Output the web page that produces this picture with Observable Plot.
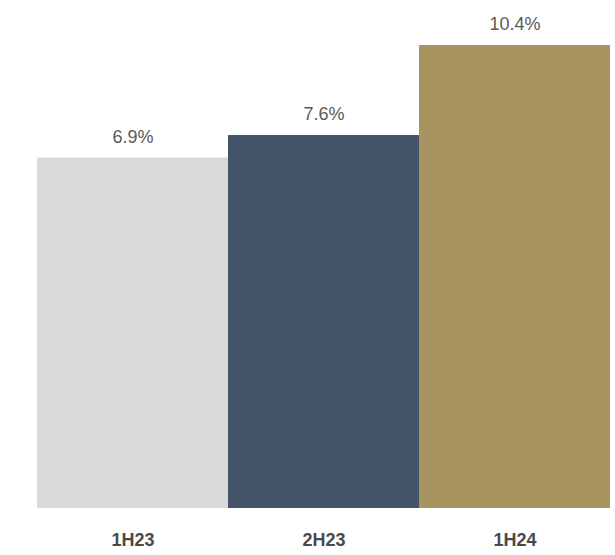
<!DOCTYPE html>
<html>
<head>
<meta charset="utf-8">
<script src="https://cdn.jsdelivr.net/npm/d3@7"></script>
<script src="https://cdn.jsdelivr.net/npm/@observablehq/plot@0.6"></script>
<style>
  html, body { margin: 0; padding: 0; background: #fff; }
</style>
</head>
<body>
<div id="chart"></div>
<script>
const periods = ["1H23", "2H23", "1H24"];
const values = [6.9, 7.6, 10.4];
const colors = ["#d9d9d9", "#435468", "#a79461"];
const yDomain = [-4, 11.8];

const data = periods.map((p, i) => ({period: p, value: values[i], color: colors[i]}));

const chart = Plot.plot({
  width: 615,
  height: 555,
  marginTop: 0,
  marginBottom: 47,
  marginLeft: 37,
  marginRight: 5,
  style: {fontFamily: "'Liberation Sans', Arial, sans-serif", background: "#fff"},
  x: {domain: periods, padding: 0, label: null},
  y: {domain: yDomain, axis: null},
  marks: [
    Plot.barY(data, {x: "period", y1: yDomain[0], y2: "value", fill: "color", inset: 0}),
    Plot.text(data, {x: "period", y: "value", text: d => d.value.toFixed(1) + "%", dy: -21, fontSize: 18, fill: "#5a5a5a"}),
    Plot.axisX({tickSize: 0, tickPadding: 25, fontSize: 18, fontWeight: "bold", fill: "#4a4a4a", color: "#4a4a4a", label: null})
  ]
});
document.getElementById("chart").appendChild(chart);
</script>
</body>
</html>
